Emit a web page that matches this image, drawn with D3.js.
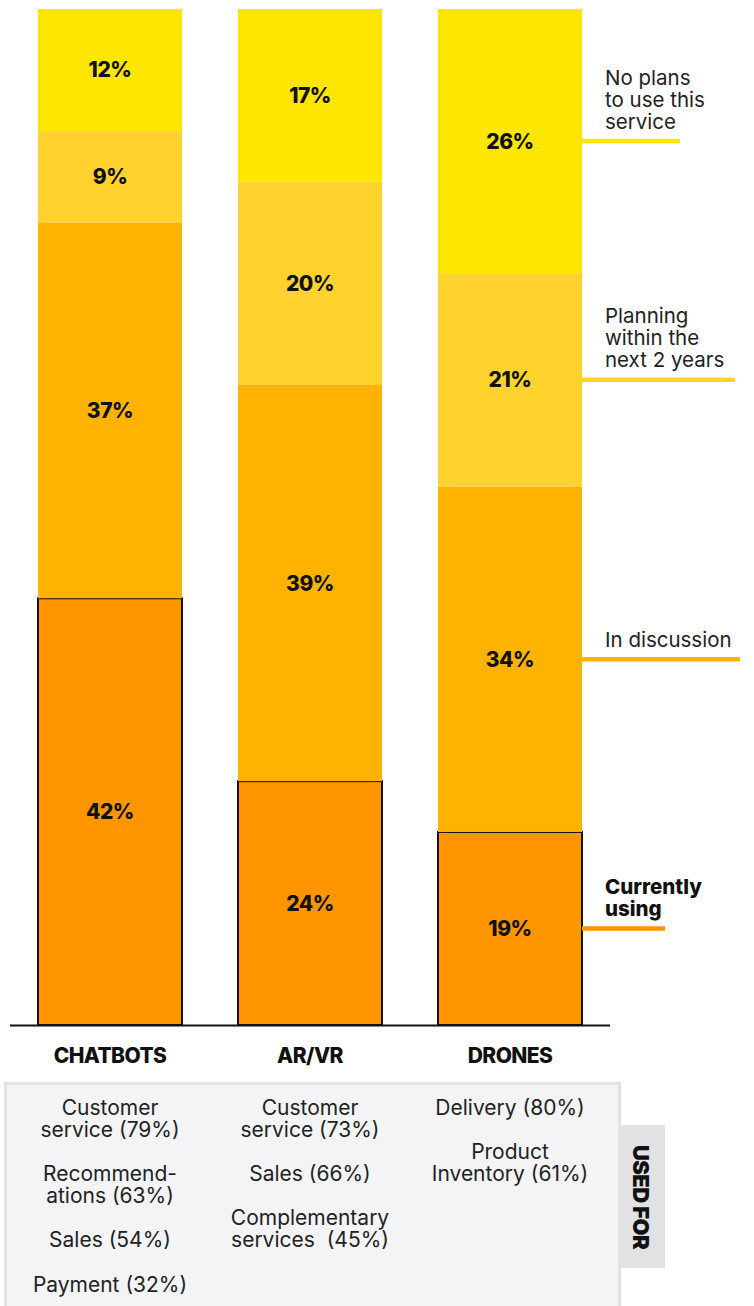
<!DOCTYPE html>
<html lang="en">
<head>
<meta charset="utf-8">
<title>Adoption of new services</title>
<script src="https://d3js.org/d3.v7.min.js"></script>
<style>
  body { margin: 0; background: #fff; }
  svg { display: block; }
  .pct { font-family: Inter, Roboto, sans-serif; font-weight: 800; font-size: 21px; fill: #111; letter-spacing: -0.5px; }
  .cat { font-family: Inter, Roboto, sans-serif; font-weight: 800; font-size: 21px; fill: #111; letter-spacing: -0.6px; }
  .leg { font-family: Inter, Roboto, sans-serif; font-size: 20.5px; fill: #222; }
  .use { font-family: Inter, Roboto, sans-serif; font-size: 21px; fill: #222; }
</style>
</head>
<body>
<svg width="754" height="1306"></svg>
<script>
// data
const categories = ["CHATBOTS", "AR/VR", "DRONES"];
const currentlyUsing = [42, 24, 19];
const inDiscussion = [37, 39, 34];
const planning = [9, 20, 21];
const noPlans = [12, 17, 26];

const statusKeys = ["current", "discussion", "planning", "none"];
const statusLabels = [
  ["Currently", "using"],
  ["In discussion"],
  ["Planning", "within the", "next 2 years"],
  ["No plans", "to use this", "service"]
];

const chatbotUses = [["Customer", "service (79%)"], ["Recommend-", "ations (63%)"], ["Sales (54%)"], ["Payment (32%)"]];
const arvrUses = [["Customer", "service (73%)"], ["Sales (66%)"], ["Complementary", "services  (45%)"]];
const droneUses = [["Delivery (80%)"], ["Product", "Inventory (61%)"]];

const colors = {current: "#FF9500", discussion: "#FFB300", planning: "#FFD22E", none: "#FFE600"};

// rows for the stack
const rows = categories.map(function(c, i) {
  return {cat: c, current: currentlyUsing[i], discussion: inDiscussion[i], planning: planning[i], none: noPlans[i]};
});

const svg = d3.select("svg");

const x = d3.scaleBand().domain(categories).range([38, 582]).paddingInner(0.28);
const y = d3.scaleLinear().domain([0, 100]).range([1025, 9]);

const series = d3.stack().keys(statusKeys)(rows);

// bars
const layers = svg.append("g").selectAll("g")
  .data(series)
  .join("g")
    .attr("fill", function(s) { return colors[s.key]; });

layers.selectAll("rect")
  .data(function(s) { return s.map(function(d) { d.key = s.key; return d; }); })
  .join("rect")
    .attr("x", function(d) { return x(d.data.cat); })
    .attr("y", function(d) { return y(d[1]); })
    .attr("width", x.bandwidth())
    .attr("height", function(d) { return y(d[0]) - y(d[1]); })
    .attr("stroke", function(d) { return d.key === "current" ? "#111" : "none"; })
    .attr("stroke-width", 2);

// value labels
layers.selectAll("text")
  .data(function(s) { return s; })
  .join("text")
    .attr("class", "pct")
    .attr("text-anchor", "middle")
    .attr("dominant-baseline", "central")
    .attr("x", function(d) { return x(d.data.cat) + x.bandwidth() / 2; })
    .attr("y", function(d) { return (y(d[0]) + y(d[1])) / 2; })
    .text(function(d) { return (d[1] - d[0]) + "%"; });

// baseline
svg.append("line")
  .attr("x1", 10).attr("x2", 610)
  .attr("y1", y(0) + 0.5).attr("y2", y(0) + 0.5)
  .attr("stroke", "#111").attr("stroke-width", 2);

// category names
svg.append("g").selectAll("text")
  .data(categories)
  .join("text")
    .attr("class", "cat")
    .attr("text-anchor", "middle")
    .attr("dominant-baseline", "central")
    .attr("x", function(d) { return x(d) + x.bandwidth() / 2; })
    .attr("y", 1055)
    .text(function(d) { return d; });

// legend, tied to the drones bar
const last = categories.length - 1;
const lineEnds = [665, 740, 735, 680];
series.forEach(function(s, k) {
  const d = s[last];
  const ly = (y(d[0]) + y(d[1])) / 2;
  svg.append("line")
    .attr("x1", x.range()[1]).attr("x2", lineEnds[k])
    .attr("y1", ly).attr("y2", ly)
    .attr("stroke", colors[s.key]).attr("stroke-width", 4.5);
  const lines = statusLabels[k];
  const t = svg.append("text")
    .attr("class", "leg")
    .style("font-weight", s.key === "current" ? 800 : 400)
    .style("fill", s.key === "current" ? "#111" : "#222");
  lines.forEach(function(l, j) {
    t.append("tspan")
      .attr("x", 605)
      .attr("y", ly - 20 - (lines.length - 1 - j) * 22)
      .attr("dominant-baseline", "central")
      .text(l);
  });
});

// "used for" panel
svg.append("rect")
  .attr("x", 5.5).attr("y", 1083.5)
  .attr("width", 614).attr("height", 230)
  .attr("fill", "#F4F4F6").attr("stroke", "#E2E2E4").attr("stroke-width", 3);

svg.append("rect")
  .attr("x", 621).attr("y", 1125)
  .attr("width", 44).attr("height", 143)
  .attr("fill", "#E2E2E4");

svg.append("text")
  .attr("class", "cat")
  .style("font-size", "22px")
  .style("font-weight", 900)
  .attr("text-anchor", "middle")
  .attr("dominant-baseline", "central")
  .attr("transform", "translate(641,1197) rotate(90)")
  .text("USED FOR");

const uses = [chatbotUses, arvrUses, droneUses];
uses.forEach(function(items, i) {
  const cx = x(categories[i]) + x.bandwidth() / 2;
  let cy = 1107;
  const t = svg.append("text").attr("class", "use").attr("text-anchor", "middle");
  items.forEach(function(item) {
    item.forEach(function(l) {
      t.append("tspan")
        .attr("x", cx).attr("y", cy)
        .attr("dominant-baseline", "central")
        .style("white-space", "pre")
        .text(l);
      cy += 22.2;
    });
    cy += 22;
  });
});
</script>
</body>
</html>
